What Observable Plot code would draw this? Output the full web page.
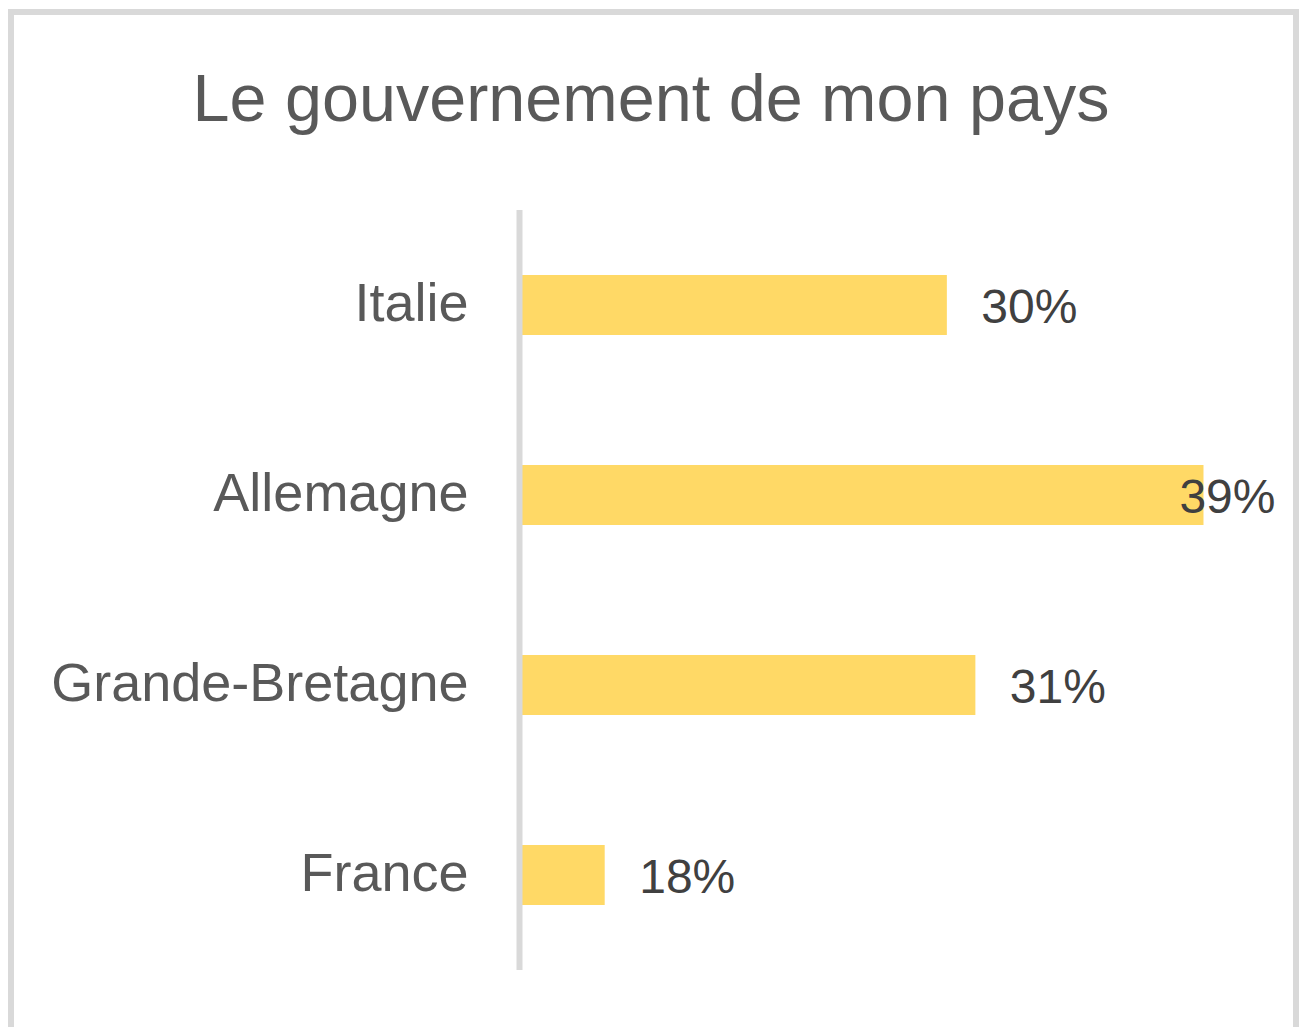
<!DOCTYPE html>
<html>
<head>
<meta charset="utf-8">
<script src="https://cdn.jsdelivr.net/npm/d3@7"></script>
<script src="https://cdn.jsdelivr.net/npm/@observablehq/plot@0.6"></script>
<style>
  html, body { margin: 0; padding: 0; background: #fff; }
  body { width: 1299px; height: 1027px; position: relative; overflow: hidden; font-family: "Liberation Sans", Arial, sans-serif; }
  #frame { position: absolute; left: 8px; top: 9px; width: 1279px; height: 1100px; border: 6px solid #d9d9d9; box-sizing: content-box; }
  #title { position: absolute; left: 0; width: 1302px; top: 65px; text-align: center; font-size: 66.5px; line-height: 66px; color: #595959; white-space: nowrap; z-index: 2; }
  #chart { position: absolute; left: 0; top: 0; z-index: 1; }
  #chart svg { font-family: "Liberation Sans", Arial, sans-serif; }
</style>
</head>
<body>
<div id="frame"></div>
<div id="title">Le gouvernement de mon pays</div>
<div id="chart"></div>
<script>
const countries = ["Italie", "Allemagne", "Grande-Bretagne", "France"];
const values = [30, 39, 31, 18];
const valueLabels = ["30%", "39%", "31%", "18%"];
const xDomain = [15.1, 40];

const data = countries.map((c, i) => ({country: c, value: values[i], label: valueLabels[i]}));
const fits = d => d.value <= xDomain[1] - 3;

const chart = Plot.plot({
  width: 1299,
  height: 1027,
  marginTop: 210,
  marginBottom: 57,
  marginLeft: 522,
  marginRight: 67,
  style: {background: "transparent", fontFamily: "Liberation Sans, Arial, sans-serif"},
  x: {domain: xDomain, clamp: true, axis: null},
  y: {domain: countries, paddingInner: 0.684, paddingOuter: 0.342, label: null},
  marks: [
    Plot.barX(data, {x: "value", y: "country", fill: "#ffd966"}),
    Plot.ruleX([xDomain[0]], {stroke: "#d9d9d9", strokeWidth: 6, dx: -3}),
    Plot.axisY({tickSize: 0, tickPadding: 54, fontSize: 54, dy: -2, fill: "#595959", label: null}),
    Plot.text(data.filter(fits), {x: "value", y: "country", text: "label", dx: 34, dy: 2, textAnchor: "start", fontSize: 48, fill: "#404040"}),
    Plot.text(data.filter(d => !fits(d)), {y: "country", text: "label", frameAnchor: "right", dx: 43, dy: 2, textAnchor: "end", fontSize: 48, fill: "#404040"})
  ]
});
document.getElementById("chart").appendChild(chart);
</script>
</body>
</html>
